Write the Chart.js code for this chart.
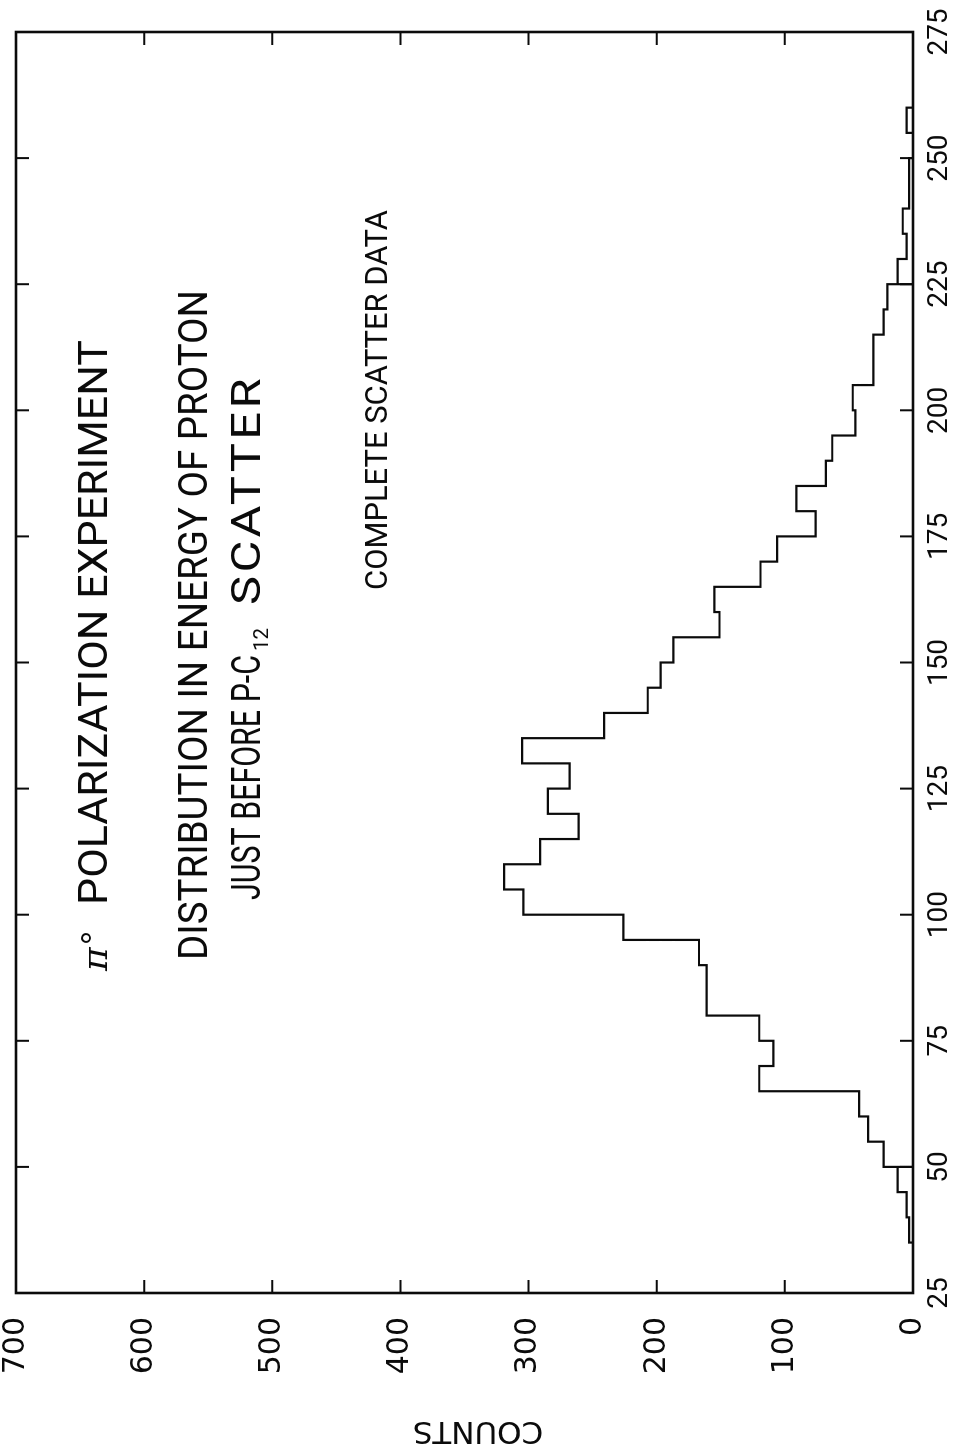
<!DOCTYPE html>
<html lang="en">
<head>
<meta charset="utf-8">
<title>π° Polarization Experiment: proton energy distribution</title>
<script src="https://cdn.jsdelivr.net/npm/chart.js@4.4.1/dist/chart.umd.min.js"></script>
<style>
  html, body { margin: 0; padding: 0; background: #fff; }
  body { width: 958px; height: 1455px; overflow: hidden; position: relative; }
  /* The plot is laid out landscape, then turned a quarter turn counter-clockwise onto the portrait sheet. */
  #sheet {
    position: absolute; left: 0; top: 0;
    width: 1455px; height: 958px;
    transform-origin: 0 0;
    transform: translate(0, 1455px) rotate(-90deg);
    background: #fff;
  }
  #plot { display: block; }
</style>
</head>
<body>
<div id="sheet"><canvas id="plot" width="1455" height="958"></canvas></div>
<script>
// Histogram: lower edge of each 5 MeV energy bin, and the counts in it
const binStarts = [35, 40, 45, 50, 55, 60, 65, 70, 75, 80, 85, 90, 95, 100, 105, 110, 115, 120,
  125, 130, 135, 140, 145, 150, 155, 160, 165, 170, 175, 180, 185, 190, 195, 200, 205, 210,
  215, 220, 225, 230, 235, 240, 245, 250, 255];
const binCounts = [3, 5, 12, 23, 35, 42, 120, 109, 120, 161, 161, 167, 226, 304, 319, 291, 261, 285,
  268, 305, 241, 207, 197, 187, 151, 155, 119, 106, 76, 91, 68, 63, 45, 47, 31, 31,
  23, 20, 12, 5, 8, 3, 3, 0, 5];
const binWidth = 5;
// Energies where the plotter pen went back down to the zero line before continuing
const penReturnEnergies = [50, 225];

const energyTicks = [25, 50, 75, 100, 125, 150, 175, 200, 225, 250, 275];
const countTicks = [0, 100, 200, 300, 400, 500, 600, 700];

const headingSymbol = 'π';
const headingLine = 'POLARIZATION EXPERIMENT';
const subtitleLine = 'DISTRIBUTION IN ENERGY OF PROTON';
const subtitleParts = ['JUST BEFORE P-C', '12', 'SCATTER'];
const noteLine = 'COMPLETE SCATTER DATA';
const countsTitle = 'COUNTS';

const INK = '#0b0b0b';

// Step outline: one point per bin edge, with extra zero points where the pen returned
const outline = [];
binStarts.forEach((e, i) => {
  if (i === 0 || penReturnEnergies.includes(e)) outline.push({ x: e, y: 0 });
  outline.push({ x: e, y: binCounts[i] });
});
const lastEdge = binStarts[binStarts.length - 1] + binWidth;
outline.push({ x: lastEdge, y: binCounts[binCounts.length - 1] });
outline.push({ x: lastEdge, y: 0 });

// Lettering fitted between u0 and u1: widen the glyphs a little and open the
// spacing when the text is short, squeeze it when it is long
function letter(ctx, text, u0, u1, baseV, cap, family, capRatio, style) {
  const size = cap / capRatio;
  const target = u1 - u0;
  const maxStretch = 1.2;
  ctx.save();
  ctx.font = (style ? style + ' ' : '') + size.toFixed(1) + 'px ' + family;
  ctx.letterSpacing = '0px';
  let w = ctx.measureText(text).width;
  if (w * maxStretch < target && text.length > 1) {
    ctx.letterSpacing = ((target / maxStretch - w) / text.length).toFixed(2) + 'px';
    w = ctx.measureText(text).width;
  }
  ctx.translate(u0, baseV);
  ctx.scale(target / w, 1);
  ctx.fillText(text, 0, 0);
  ctx.restore();
}

const headings = {
  id: 'headings',
  beforeDatasetsDraw(chart) {
    const ctx = chart.ctx;
    ctx.save();
    ctx.fillStyle = INK;
    ctx.textAlign = 'left';
    ctx.textBaseline = 'alphabetic';
    const R = 'Roboto', RC = 0.711;
    // π° POLARIZATION EXPERIMENT
    ctx.font = 'italic 36px "DejaVu Serif"';
    ctx.fillText(headingSymbol, 484, 107);
    ctx.font = '32px "DejaVu Sans"';
    ctx.fillText('°', 509, 105);
    letter(ctx, headingLine, 550, 1115, 107, 29, R, RC);
    // DISTRIBUTION IN ENERGY OF PROTON
    letter(ctx, subtitleLine, 495, 1165, 207, 29, R, RC);
    // JUST BEFORE P-C12 SCATTER
    letter(ctx, subtitleParts[0], 555, 800, 260, 29, R, RC);
    letter(ctx, subtitleParts[1], 804, 827, 268, 15, R, RC);
    letter(ctx, subtitleParts[2], 850, 1080, 260, 29, R, RC);
    // COMPLETE SCATTER DATA
    letter(ctx, noteLine, 865, 1245, 387, 22, R, RC);
    // Counts axis title, written up the left side
    ctx.save();
    ctx.translate(25, 478);
    ctx.rotate(-Math.PI / 2);
    ctx.textAlign = 'center';
    ctx.textBaseline = 'middle';
    ctx.font = '31px "DejaVu Sans"';
    ctx.fillText(countsTitle, 0, 0);
    ctx.restore();
    ctx.restore();
  }
};

// Plot frame with short inward tick marks on all four sides
const frame = {
  id: 'frame',
  afterDatasetsDraw(chart) {
    const { ctx, chartArea: a, scales: { x, y } } = chart;
    const len = 13;
    ctx.save();
    ctx.strokeStyle = INK;
    ctx.lineWidth = 2;
    ctx.beginPath();
    x.ticks.forEach(t => {
      const px = x.getPixelForValue(t.value);
      ctx.moveTo(px, a.bottom); ctx.lineTo(px, a.bottom - len);
      ctx.moveTo(px, a.top); ctx.lineTo(px, a.top + len);
    });
    y.ticks.forEach(t => {
      const py = y.getPixelForValue(t.value);
      ctx.moveTo(a.left, py); ctx.lineTo(a.left + len, py);
      ctx.moveTo(a.right, py); ctx.lineTo(a.right - len, py);
    });
    ctx.stroke();
    ctx.lineWidth = 2.6;
    ctx.strokeRect(a.left, a.top, a.right - a.left, a.bottom - a.top);
    ctx.restore();
  }
};

new Chart(document.getElementById('plot'), {
  type: 'line',
  data: {
    datasets: [{
      data: outline,
      stepped: true,
      borderColor: INK,
      borderWidth: 2.2,
      pointRadius: 0,
      fill: false,
      tension: 0
    }]
  },
  options: {
    responsive: false,
    animation: false,
    devicePixelRatio: 1,
    layout: { padding: { left: 0, right: 32, top: 16, bottom: 0 } },
    plugins: { legend: { display: false }, tooltip: { enabled: false }, title: { display: false } },
    scales: {
      x: {
        type: 'linear', min: 25, max: 275, offset: false,
        grid: { display: false, drawTicks: false },
        border: { display: false },
        afterBuildTicks: s => { s.ticks = energyTicks.map(v => ({ value: v })); },
        afterFit: s => { s.height = 45; s.paddingLeft = 0; s.paddingRight = 0; },
        ticks: {
          autoSkip: false, maxRotation: 0, minRotation: 0, padding: 10,
          color: INK, font: { family: 'Roboto', size: 28 }
        }
      },
      y: {
        type: 'linear', min: 0, max: 700,
        grid: { display: false, drawTicks: false },
        border: { display: false },
        afterBuildTicks: s => { s.ticks = countTicks.map(v => ({ value: v })); },
        afterFit: s => { s.width = 162; s.paddingTop = 0; s.paddingBottom = 0; },
        ticks: {
          autoSkip: false, padding: 24,
          color: INK, font: { family: 'DejaVu Sans', size: 30 }
        }
      }
    }
  },
  plugins: [headings, frame]
});
</script>
</body>
</html>
